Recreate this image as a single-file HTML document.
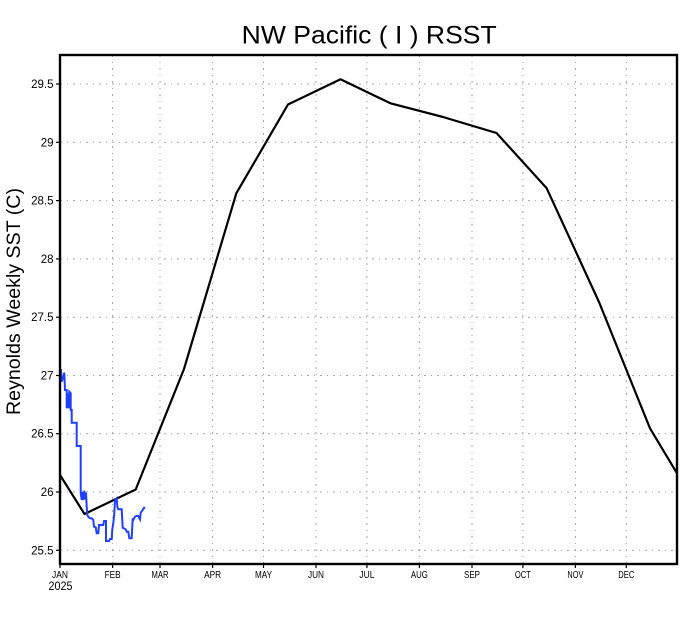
<!DOCTYPE html>
<html><head><meta charset="utf-8"><style>
html,body{margin:0;padding:0;background:#fff;}
svg{display:block;}
text{font-family:"Liberation Sans",sans-serif;fill:#000;}
</style></head><body>
<svg width="690" height="618" viewBox="0 0 690 618" xmlns="http://www.w3.org/2000/svg">
<rect width="690" height="618" fill="#fff"/>
<!-- grid -->
<g stroke="#a4a4a4" stroke-width="1" stroke-dasharray="2,5,1,5" fill="none">
<line x1="60" y1="84" x2="677" y2="84"/>
<line x1="60" y1="142.3" x2="677" y2="142.3"/>
<line x1="60" y1="200.6" x2="677" y2="200.6"/>
<line x1="60" y1="258.9" x2="677" y2="258.9"/>
<line x1="60" y1="317.2" x2="677" y2="317.2"/>
<line x1="60" y1="375.5" x2="677" y2="375.5"/>
<line x1="60" y1="433.7" x2="677" y2="433.7"/>
<line x1="60" y1="492" x2="677" y2="492"/>
<line x1="60" y1="550.3" x2="677" y2="550.3"/>
<line x1="112.6" y1="55" x2="112.6" y2="564"/>
<line x1="160" y1="55" x2="160" y2="564"/>
<line x1="212.6" y1="55" x2="212.6" y2="564"/>
<line x1="263.5" y1="55" x2="263.5" y2="564"/>
<line x1="316" y1="55" x2="316" y2="564"/>
<line x1="366.9" y1="55" x2="366.9" y2="564"/>
<line x1="419.4" y1="55" x2="419.4" y2="564"/>
<line x1="472" y1="55" x2="472" y2="564"/>
<line x1="522.9" y1="55" x2="522.9" y2="564"/>
<line x1="575.4" y1="55" x2="575.4" y2="564"/>
<line x1="626.3" y1="55" x2="626.3" y2="564"/>
</g>
<!-- climatology -->
<polyline fill="none" stroke="#000" stroke-width="2.2" stroke-linejoin="round"
points="60,475 84.5,514 135.7,489.5 184,369 236.3,193.3 288,104.5 340.5,79.3 390.5,103.3 443,117 496.5,133 546.7,188.3 599,302 650,428.3 677,473.3"/>
<!-- observed -->
<polyline fill="none" stroke="#2040ff" stroke-width="2" stroke-linejoin="miter"
points="60,381.7 60,370 61,370 61.7,381.7 63.3,376.7 64.3,372.7 65,390 66.7,390 66.7,408.3 67.7,393.3 68.7,408.3 69.3,391.7 70.7,393.3 70.7,410 71.7,410 71.7,422.7 76.7,422.7 76.7,446 80.7,446 80.7,492.7 81.7,500 82.7,491.7 83.3,500 84.3,490.7 85.3,499.3 86,492.7 86.7,506.7 87.3,515 88.3,516.7 90,518.3 91.7,518.3 93.3,520 94,526.7 95.7,527.3 96.7,533.3 98.3,533.3 99,525 103.3,525 104,521 106,521 106,541 109,541 110,539 111.7,539 112.3,529.3 113.3,523.3 114.3,513.3 115,500 116.7,498.3 117.3,506.7 118.3,509.3 121.7,509.3 122.7,527.7 125.7,529.3 126.7,531.7 128.3,531.7 129.3,538.3 131.7,538.3 132.7,518.3 133.3,520 135,516.7 136.7,516 138.3,516 140,519.3 140.7,512.7 142.7,510 144,507.7 145.3,507.7"/>
<!-- frame -->
<rect x="60" y="55" width="617" height="509" fill="none" stroke="#000" stroke-width="2.4"/>
<!-- ticks -->
<g stroke="#000" stroke-width="1.2">
<line x1="56" y1="84" x2="60" y2="84"/>
<line x1="56" y1="142.3" x2="60" y2="142.3"/>
<line x1="56" y1="200.6" x2="60" y2="200.6"/>
<line x1="56" y1="258.9" x2="60" y2="258.9"/>
<line x1="56" y1="317.2" x2="60" y2="317.2"/>
<line x1="56" y1="375.5" x2="60" y2="375.5"/>
<line x1="56" y1="433.7" x2="60" y2="433.7"/>
<line x1="56" y1="492" x2="60" y2="492"/>
<line x1="56" y1="550.3" x2="60" y2="550.3"/>
<line x1="60" y1="564" x2="60" y2="568"/>
<line x1="112.6" y1="564" x2="112.6" y2="568"/>
<line x1="160" y1="564" x2="160" y2="568"/>
<line x1="212.6" y1="564" x2="212.6" y2="568"/>
<line x1="263.5" y1="564" x2="263.5" y2="568"/>
<line x1="316" y1="564" x2="316" y2="568"/>
<line x1="366.9" y1="564" x2="366.9" y2="568"/>
<line x1="419.4" y1="564" x2="419.4" y2="568"/>
<line x1="472" y1="564" x2="472" y2="568"/>
<line x1="522.9" y1="564" x2="522.9" y2="568"/>
<line x1="575.4" y1="564" x2="575.4" y2="568"/>
<line x1="626.3" y1="564" x2="626.3" y2="568"/>
</g>
<!-- y tick labels -->
<g font-size="11.5" text-anchor="end">
<text x="53.5" y="88">29.5</text>
<text x="53.5" y="146.3">29</text>
<text x="53.5" y="204.6">28.5</text>
<text x="53.5" y="262.9">28</text>
<text x="53.5" y="321.2">27.5</text>
<text x="53.5" y="379.5">27</text>
<text x="53.5" y="437.7">26.5</text>
<text x="53.5" y="496">26</text>
<text x="53.5" y="554.3">25.5</text>
</g>
<!-- month labels -->
<g font-size="10.5" text-anchor="middle">
<text x="60" y="578" textLength="16" lengthAdjust="spacingAndGlyphs">JAN</text>
<text x="112.6" y="578" textLength="16" lengthAdjust="spacingAndGlyphs">FEB</text>
<text x="160" y="578" textLength="17" lengthAdjust="spacingAndGlyphs">MAR</text>
<text x="212.6" y="578" textLength="17" lengthAdjust="spacingAndGlyphs">APR</text>
<text x="263.5" y="578" textLength="17" lengthAdjust="spacingAndGlyphs">MAY</text>
<text x="316" y="578" textLength="16" lengthAdjust="spacingAndGlyphs">JUN</text>
<text x="366.9" y="578" textLength="15" lengthAdjust="spacingAndGlyphs">JUL</text>
<text x="419.4" y="578" textLength="17" lengthAdjust="spacingAndGlyphs">AUG</text>
<text x="472" y="578" textLength="16" lengthAdjust="spacingAndGlyphs">SEP</text>
<text x="522.9" y="578" textLength="16" lengthAdjust="spacingAndGlyphs">OCT</text>
<text x="575.4" y="578" textLength="16" lengthAdjust="spacingAndGlyphs">NOV</text>
<text x="626.3" y="578" textLength="16" lengthAdjust="spacingAndGlyphs">DEC</text>
<text x="60.5" y="590" font-size="11.5" textLength="24" lengthAdjust="spacingAndGlyphs">2025</text>
</g>
<!-- title -->
<text x="241.7" y="43.5" font-size="25" textLength="255" lengthAdjust="spacingAndGlyphs">NW Pacific ( I ) RSST</text>
<!-- y label -->
<text transform="translate(20,301.5) rotate(-90)" font-size="19" text-anchor="middle" textLength="227" lengthAdjust="spacingAndGlyphs">Reynolds Weekly SST (C)</text>
</svg>
</body></html>
